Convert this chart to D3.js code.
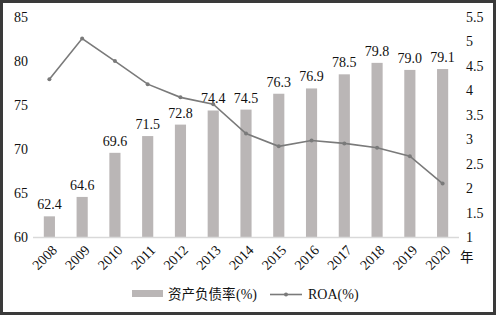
<!DOCTYPE html>
<html>
<head>
<meta charset="utf-8">
<script src="https://d3js.org/d3.v7.min.js"></script>
<style>
    body { margin: 0; background: #fff; }
    text { font-family: "Liberation Serif", "Times New Roman", serif; font-size: 14px; fill: #111; }
    .cjk { font-family: "Noto Sans CJK SC", sans-serif; font-size: 13.5px; }
</style>
</head>
<body>
<script>
// data
const years = ["2008", "2009", "2010", "2011", "2012", "2013", "2014", "2015", "2016", "2017", "2018", "2019", "2020"];
const debtRatio = [62.4, 64.6, 69.6, 71.5, 72.8, 74.4, 74.5, 76.3, 76.9, 78.5, 79.8, 79.0, 79.1];
const roa = [4.23, 5.06, 4.6, 4.13, 3.86, 3.72, 3.12, 2.86, 2.98, 2.92, 2.83, 2.66, 2.1];
const leftTicks = [60, 65, 70, 75, 80, 85];
const rightTicks = [1, 1.5, 2, 2.5, 3, 3.5, 4, 4.5, 5, 5.5];

const width = 496, height = 315;
const plotLeft = 33, plotRight = 459, plotTop = 17, plotBottom = 237.5;

const svg = d3.select("body").append("svg")
    .attr("width", width)
    .attr("height", height);

// frame
svg.append("rect")
    .attr("x", 1.5).attr("y", 1.5)
    .attr("width", width - 3).attr("height", height - 3)
    .attr("fill", "none")
    .attr("stroke", "#3a3a3a")
    .attr("stroke-width", 3);

const x = d3.scaleBand().domain(years).range([plotLeft, plotRight]).paddingInner(0.66).paddingOuter(0.33);
const yL = d3.scaleLinear().domain([60, 85]).range([plotBottom, plotTop]);
const yR = d3.scaleLinear().domain([1, 5.5]).range([plotBottom, plotTop]);

// bars
svg.selectAll("rect.bar")
    .data(debtRatio)
    .enter().append("rect")
    .attr("class", "bar")
    .attr("x", (d, i) => x(years[i]))
    .attr("width", x.bandwidth())
    .attr("y", d => yL(d))
    .attr("height", d => plotBottom - yL(d))
    .attr("fill", "#bab6b6");

// bar labels
svg.selectAll("text.vlab")
    .data(debtRatio)
    .enter().append("text")
    .attr("class", "vlab")
    .attr("x", (d, i) => x(years[i]) + x.bandwidth() / 2)
    .attr("y", d => yL(d) - 7)
    .attr("text-anchor", "middle")
    .text(d => d.toFixed(1));

// baseline
svg.append("line")
    .attr("x1", plotLeft).attr("x2", plotRight)
    .attr("y1", plotBottom).attr("y2", plotBottom)
    .attr("stroke", "#d9d9d9")
    .attr("stroke-width", 1.5);

// left axis labels
svg.selectAll("text.yl")
    .data(leftTicks)
    .enter().append("text")
    .attr("class", "yl")
    .attr("x", 28)
    .attr("y", d => yL(d))
    .attr("dy", "0.35em")
    .attr("text-anchor", "end")
    .text(d => d);

// right axis labels
svg.selectAll("text.yr")
    .data(rightTicks)
    .enter().append("text")
    .attr("class", "yr")
    .attr("x", 466)
    .attr("y", d => yR(d))
    .attr("dy", "0.35em")
    .text(d => d);

// x labels
svg.selectAll("text.xl")
    .data(years)
    .enter().append("text")
    .attr("class", "xl")
    .attr("text-anchor", "end")
    .attr("transform", d => "translate(" + (x(d) + x.bandwidth() / 2 + 5) + "," + (plotBottom + 10) + ") rotate(-45)")
    .attr("dy", "0.35em")
    .text(d => d);

svg.append("text")
    .attr("class", "cjk")
    .attr("x", 460).attr("y", 262)
    .text("年");

// ROA line
const line = d3.line()
    .x((d, i) => x(years[i]) + x.bandwidth() / 2)
    .y(d => yR(d));

svg.append("path")
    .attr("d", line(roa))
    .attr("fill", "none")
    .attr("stroke", "#7a7a7a")
    .attr("stroke-width", 1.6);

svg.selectAll("circle.pt")
    .data(roa)
    .enter().append("circle")
    .attr("class", "pt")
    .attr("cx", (d, i) => x(years[i]) + x.bandwidth() / 2)
    .attr("cy", d => yR(d))
    .attr("r", 2)
    .attr("fill", "#7a7a7a");

// legend
const lg = svg.append("g");
lg.append("rect")
    .attr("x", 132).attr("y", 290)
    .attr("width", 31).attr("height", 7)
    .attr("fill", "#bab6b6");
lg.append("text")
    .attr("x", 168).attr("y", 299)
    .attr("class", "cjk")
    .text("资产负债率");
lg.append("text")
    .attr("x", 236).attr("y", 299)
    .text("(%)");
lg.append("line")
    .attr("x1", 270).attr("x2", 302)
    .attr("y1", 294.5).attr("y2", 294.5)
    .attr("stroke", "#7a7a7a")
    .attr("stroke-width", 1.6);
lg.append("circle")
    .attr("cx", 286).attr("cy", 294.5).attr("r", 2)
    .attr("fill", "#7a7a7a");
lg.append("text")
    .attr("x", 308).attr("y", 299)
    .text("ROA(%)");
</script>
</body>
</html>
